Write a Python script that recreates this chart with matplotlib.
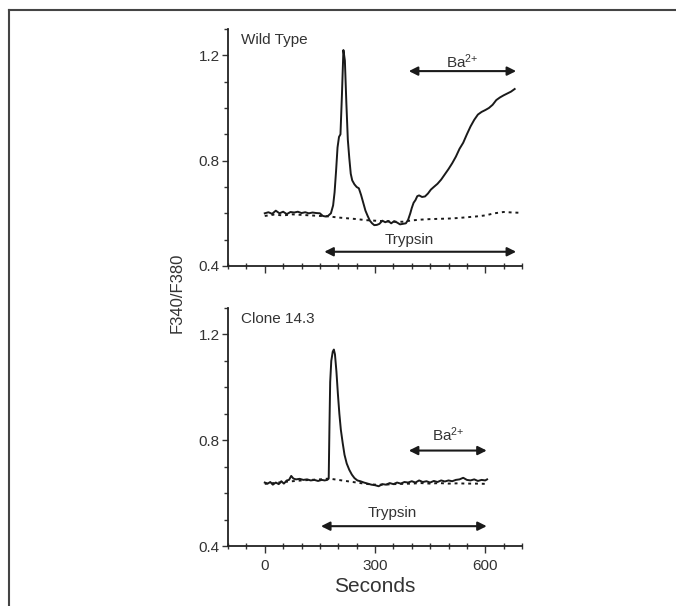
import matplotlib
matplotlib.use("Agg")
import matplotlib.pyplot as plt
from matplotlib.lines import Line2D
from matplotlib.ticker import MultipleLocator, FixedLocator

plt.rcParams['font.family'] = ['Liberation Sans', 'DejaVu Sans']
plt.rcParams['mathtext.fontset'] = 'custom'
plt.rcParams['mathtext.rm'] = 'Liberation Sans'
plt.rcParams['mathtext.it'] = 'Liberation Sans:italic'

# ----------------------------------
# data
# ----------------------------------
wt_t = [0, 10, 20, 30, 40, 50, 60, 70, 80, 90, 100, 110, 120, 130, 140, 150,
        158, 165, 172, 180, 186, 190, 194, 198, 202, 206, 210, 214, 218, 222,
        226, 230, 234, 238, 244, 250, 256, 262, 268, 274, 280, 286, 292, 298,
        305, 312, 320, 328, 336, 344, 352, 360, 368, 376, 384, 390, 396, 400,
        405, 410, 415, 420, 428, 436, 444, 452, 460, 470, 480, 490, 500, 510,
        520, 530, 540, 550, 560, 570, 580, 590, 600, 610, 620, 630, 640, 650,
        660, 670, 680]
wt_solid = [0.600, 0.604, 0.598, 0.610, 0.600, 0.606, 0.597, 0.605, 0.603, 0.606,
            0.601, 0.604, 0.600, 0.603, 0.601, 0.600, 0.590, 0.588, 0.590, 0.600,
            0.630, 0.680, 0.760, 0.850, 0.890, 0.900, 1.050, 1.220, 1.180, 1.020,
            0.880, 0.810, 0.750, 0.725, 0.710, 0.700, 0.695, 0.670, 0.640, 0.610,
            0.590, 0.572, 0.562, 0.555, 0.556, 0.560, 0.572, 0.566, 0.571, 0.562,
            0.570, 0.565, 0.558, 0.560, 0.562, 0.575, 0.600, 0.620, 0.640, 0.650,
            0.665, 0.668, 0.662, 0.664, 0.675, 0.690, 0.700, 0.712, 0.728, 0.748,
            0.768, 0.790, 0.815, 0.845, 0.868, 0.900, 0.930, 0.955, 0.975, 0.985,
            0.992, 1.000, 1.012, 1.030, 1.040, 1.048, 1.055, 1.062, 1.072]

wt_dot_t = [0, 25, 50, 75, 100, 125, 150, 175, 200, 225, 250, 275, 300, 325, 350,
            375, 400, 425, 450, 475, 500, 525, 550, 575, 600, 625, 650, 675, 695]
wt_dotted = [0.590, 0.595, 0.592, 0.596, 0.594, 0.592, 0.590, 0.588, 0.584, 0.581,
             0.578, 0.574, 0.572, 0.570, 0.568, 0.568, 0.573, 0.576, 0.578, 0.579,
             0.580, 0.582, 0.585, 0.588, 0.592, 0.600, 0.605, 0.603, 0.602]

cl_t = [0, 8, 15, 22, 30, 38, 45, 52, 60, 66, 72, 78, 85, 95, 105, 115, 125, 135,
        145, 155, 163, 170, 174, 176, 178, 181, 185, 188, 191, 195, 199, 203, 207,
        212, 217, 223, 230, 237, 244, 252, 260, 270, 280, 290, 300, 310, 320, 330,
        340, 350, 360, 370, 380, 390, 400, 410, 420, 430, 440, 450, 460, 470, 480,
        490, 500, 510, 520, 530, 540, 550, 560, 570, 580, 590, 600, 605]
cl_solid = [0.640, 0.636, 0.642, 0.632, 0.640, 0.634, 0.645, 0.636, 0.648, 0.650,
            0.665, 0.655, 0.652, 0.654, 0.650, 0.652, 0.648, 0.650, 0.646, 0.650,
            0.648, 0.650, 0.655, 0.850, 1.020, 1.100, 1.135, 1.143, 1.125, 1.060,
            0.975, 0.900, 0.840, 0.790, 0.745, 0.712, 0.688, 0.670, 0.657, 0.648,
            0.645, 0.640, 0.636, 0.632, 0.630, 0.626, 0.634, 0.632, 0.638, 0.634,
            0.640, 0.636, 0.642, 0.640, 0.645, 0.640, 0.648, 0.642, 0.645, 0.640,
            0.646, 0.642, 0.648, 0.644, 0.648, 0.645, 0.650, 0.652, 0.658, 0.650,
            0.648, 0.652, 0.646, 0.650, 0.648, 0.652]

cl_dot_t = [0, 25, 50, 75, 100, 125, 150, 175, 200, 225, 250, 275, 300, 325, 350,
            375, 400, 425, 450, 475, 500, 525, 550, 575, 600]
cl_dotted = [0.635, 0.638, 0.642, 0.645, 0.648, 0.650, 0.652, 0.655, 0.650, 0.645,
             0.640, 0.635, 0.632, 0.632, 0.634, 0.635, 0.636, 0.638, 0.636, 0.638,
             0.636, 0.637, 0.636, 0.636, 0.635]

panel_titles = ["Wild Type", "Clone 14.3"]
# (start, end, y) for the treatment arrows
trypsin_arrows = [(162, 684, 0.454), (153, 604, 0.475)]
ba_arrows = [(392, 684, 1.14), (392, 604, 0.761)]
trypsin_text = [(394, 0.50), (347, 0.523)]
ba_text = [(536, 1.175), (500, 0.82)]

# ----------------------------------
# figure
# ----------------------------------
fig = plt.figure(figsize=(6.76, 6.06), dpi=100)
ax_top = fig.add_axes([0.3373, 0.5611, 0.4349, 0.3911])
ax_bot = fig.add_axes([0.3373, 0.0990, 0.4349, 0.3927])
axes = [ax_top, ax_bot]

ink = '#1a1a1a'
ax_top.plot(wt_t, wt_solid, color=ink, lw=1.4)
ax_top.plot(wt_dot_t, wt_dotted, color=ink, lw=1.4, linestyle=(0, (1.5, 2.0)))
ax_bot.plot(cl_t, cl_solid, color=ink, lw=1.4)
ax_bot.plot(cl_dot_t, cl_dotted, color=ink, lw=1.4, linestyle=(0, (1.5, 2.0)))

for i, ax in enumerate(axes):
    ax.set_xlim(-100, 700)
    ax.set_ylim(0.4, 1.3)
    for s in ['top', 'right']:
        ax.spines[s].set_visible(False)
    for s in ['left', 'bottom']:
        ax.spines[s].set_color('#222222')
        ax.spines[s].set_linewidth(1.3)
    ax.yaxis.set_major_locator(FixedLocator([0.4, 0.8, 1.2]))
    ax.yaxis.set_minor_locator(MultipleLocator(0.1))
    ax.xaxis.set_major_locator(FixedLocator([0, 300, 600]))
    ax.xaxis.set_minor_locator(MultipleLocator(50))
    ax.tick_params(axis='y', which='major', direction='out', length=4, width=1,
                   labelsize=11, colors='#333333', pad=2)
    ax.tick_params(axis='y', which='minor', direction='out', length=3, width=1,
                   colors='#333333')
    ax.tick_params(axis='x', which='major', direction='out', length=5, width=1,
                   labelsize=11, colors='#333333', pad=4)
    ax.tick_params(axis='x', which='minor', direction='inout', length=5, width=1,
                   colors='#333333')
    ax.text(-66, 1.257, panel_titles[i], fontsize=11, color='#333333',
            ha='left', va='center')

    x0, x1, y = trypsin_arrows[i]
    ax.annotate('', xy=(x1, y), xytext=(x0, y),
                arrowprops=dict(arrowstyle='<|-|>', color=ink, lw=1.5,
                                mutation_scale=13, shrinkA=0, shrinkB=0))
    ax.text(trypsin_text[i][0], trypsin_text[i][1], 'Trypsin', fontsize=11,
            color='#333333', ha='center', va='center')

    x0, x1, y = ba_arrows[i]
    ax.annotate('', xy=(x1, y), xytext=(x0, y),
                arrowprops=dict(arrowstyle='<|-|>', color=ink, lw=1.5,
                                mutation_scale=13, shrinkA=0, shrinkB=0))
    ax.text(ba_text[i][0], ba_text[i][1], r'Ba$^{2{+}}$', fontsize=11,
            color='#333333', ha='center', va='center')

ax_top.tick_params(axis='x', labelbottom=False)
ax_bot.set_xlabel('Seconds', fontsize=15, color='#333333', labelpad=3)

fig.text(177 / 676, 1 - 293 / 606, 'F340/F380', rotation=90, fontsize=12,
         color='#333333', ha='center', va='center')

# outer frame (top and left edges only)
fig.add_artist(Line2D([9 / 676, 1.0], [1 - 10 / 606, 1 - 10 / 606],
                      transform=fig.transFigure, color='#444444', lw=1.5))
fig.add_artist(Line2D([9 / 676, 9 / 676], [0.0, 1 - 10 / 606],
                      transform=fig.transFigure, color='#444444', lw=1.5))

fig.savefig('out.png', dpi=100)
